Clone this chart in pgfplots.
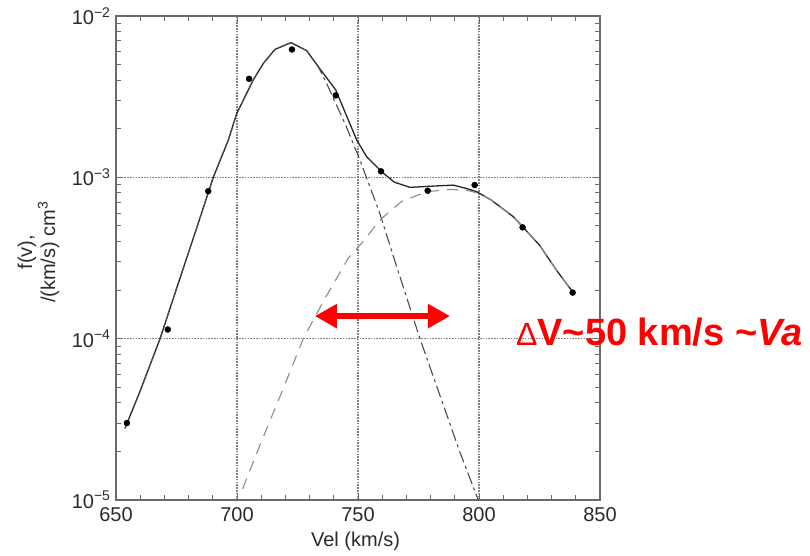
\documentclass[border=0pt]{standalone}
\usepackage{fontspec}
\setmainfont{Liberation Sans}
\usepackage{pgfplots}
\pgfplotsset{compat=1.18}
\usetikzlibrary{arrows.meta}
\definecolor{axgray}{HTML}{6A6A6A}
\definecolor{gridgray}{HTML}{808080}
\definecolor{txt}{HTML}{2A2A2A}
\begin{document}
\begin{tikzpicture}[x=1pt,y=1pt]
\path[use as bounding box] (0,0) rectangle (810,556);
\begin{axis}[
  at={(116pt,56pt)}, anchor=south west,
  width=484pt, height=484pt, scale only axis,
  xmin=650, xmax=850, ymode=log, ymin=1e-5, ymax=1e-2,
  xtick={650,700,750,800,850},
  minor x tick num=4,
  ytick={1e-5,1e-4,1e-3,1e-2},
  yticklabels={10\textsuperscript{−5},10\textsuperscript{−4},10\textsuperscript{−3},10\textsuperscript{−2}},
  minor ytick={2e-5,3e-5,4e-5,5e-5,6e-5,7e-5,8e-5,9e-5,2e-4,3e-4,4e-4,5e-4,6e-4,7e-4,8e-4,9e-4,2e-3,3e-3,4e-3,5e-3,6e-3,7e-3,8e-3,9e-3},
  /pgf/number format/assume math mode=true,
  tick label style={font=\fontsize{20}{24}\selectfont, text=txt},
  xticklabel style={yshift=-4pt},
  yticklabel style={xshift=-2pt},
  tick align=inside,
  major tick length=6pt, minor tick length=5pt,
  every tick/.style={axgray, line width=1pt},
  axis line style={axgray, line width=1.3pt},
  xmajorgrids, ymajorgrids,
  major grid style={gridgray, line width=1.1pt, dash pattern=on 1.6pt off 1.2pt},
  xlabel={Vel (km/s)},
  ylabel={f(v),\\/(km/s) cm\textsuperscript{3}},
  every axis x label/.style={at={(axis description cs:0.495,-0.085)}, anchor=center, font=\fontsize{20}{23}\selectfont, text=txt},
  every axis y label/.style={at={(axis description cs:-0.16,0.512)}, rotate=90, anchor=center, align=center, font=\fontsize{20}{23}\selectfont, text=txt},
]
% solid fit
\addplot[black!85, line width=1.3pt] coordinates {
(653.7,2.78e-5) (660,4.75e-5) (668.2,1.0e-4) (675,2.04e-4) (683,4.68e-4)
(690.2,1.0e-3) (696.4,1.70e-3) (699.9,2.49e-3) (706.7,4.01e-3) (710.9,5.09e-3)
(715.7,6.21e-3) (722.3,6.84e-3) (728.8,6.10e-3) (733.6,4.85e-3) (740.8,3.48e-3)
(745,2.46e-3) (749.5,1.70e-3) (753.6,1.34e-3) (760.5,1.06e-3) (765,9.33e-4)
(771.5,8.67e-4) (780,8.81e-4) (789.4,8.95e-4) (795,8.51e-4) (799,8.15e-4)
(805,7.24e-4) (814.2,5.70e-4) (825,3.80e-4) (832,2.66e-4) (838.7,1.95e-4)
};
% core (dash-dot)
\addplot[black!70, line width=1.1pt, dash pattern=on 12pt off 4pt on 3pt off 4pt] coordinates {
(653.7,2.78e-5) (660,4.75e-5) (668.2,1.0e-4) (675,2.04e-4) (683,4.68e-4)
(690.2,1.0e-3) (696.4,1.70e-3) (699.9,2.49e-3) (706.7,4.01e-3) (710.9,5.09e-3)
(715.7,6.21e-3) (722.3,6.84e-3) (728.8,6.10e-3) (733.6,4.85e-3)
(737,3.83e-3) (745,2.09e-3) (750.8,1.28e-3) (759,5.98e-4) (766,2.79e-4)
(775.6,1.0e-4) (785,3.98e-5) (792,2.0e-5) (799.7,1.0e-5)
};
% beam (dashed)
\addplot[black!45, line width=1.1pt, dash pattern=on 11pt off 8pt] coordinates {
(702.3,1.17e-5) (710,2.29e-5) (718,4.47e-5) (727.4,1.0e-4) (736,1.74e-4)
(746,3.16e-4) (752,3.98e-4) (759,5.43e-4) (768,7.08e-4) (778.4,8.15e-4)
(788,8.41e-4) (795,8.32e-4) (800,7.94e-4) (805,7.24e-4) (814.2,5.70e-4)
(825,3.80e-4) (832,2.66e-4) (838.7,1.95e-4)
};
% data points
\addplot[only marks, mark=*, mark size=3pt, black] coordinates {
(654.5,3.0e-5) (671.4,1.14e-4) (688.1,8.2e-4) (705,4.08e-3) (722.7,6.2e-3)
(740.8,3.22e-3) (759.5,1.09e-3) (778.8,8.26e-4) (798.2,8.96e-4) (818,4.9e-4)
(838.7,1.93e-4)
};
\draw[red, line width=6pt, {Triangle[length=22pt,width=23pt]}-{Triangle[length=22pt,width=23pt]}]
  (axis cs:732.2,1.38e-4) -- (axis cs:788,1.38e-4);
\end{axis}
\node[anchor=base west, inner sep=0pt, text=red] at (516,210)
  {{\fontsize{32}{36}\selectfont Δ}{\fontsize{38}{42}\selectfont\bfseries V\textasciitilde 50 km/s \textasciitilde\textit{Va}}};
\end{tikzpicture}
\end{document}
